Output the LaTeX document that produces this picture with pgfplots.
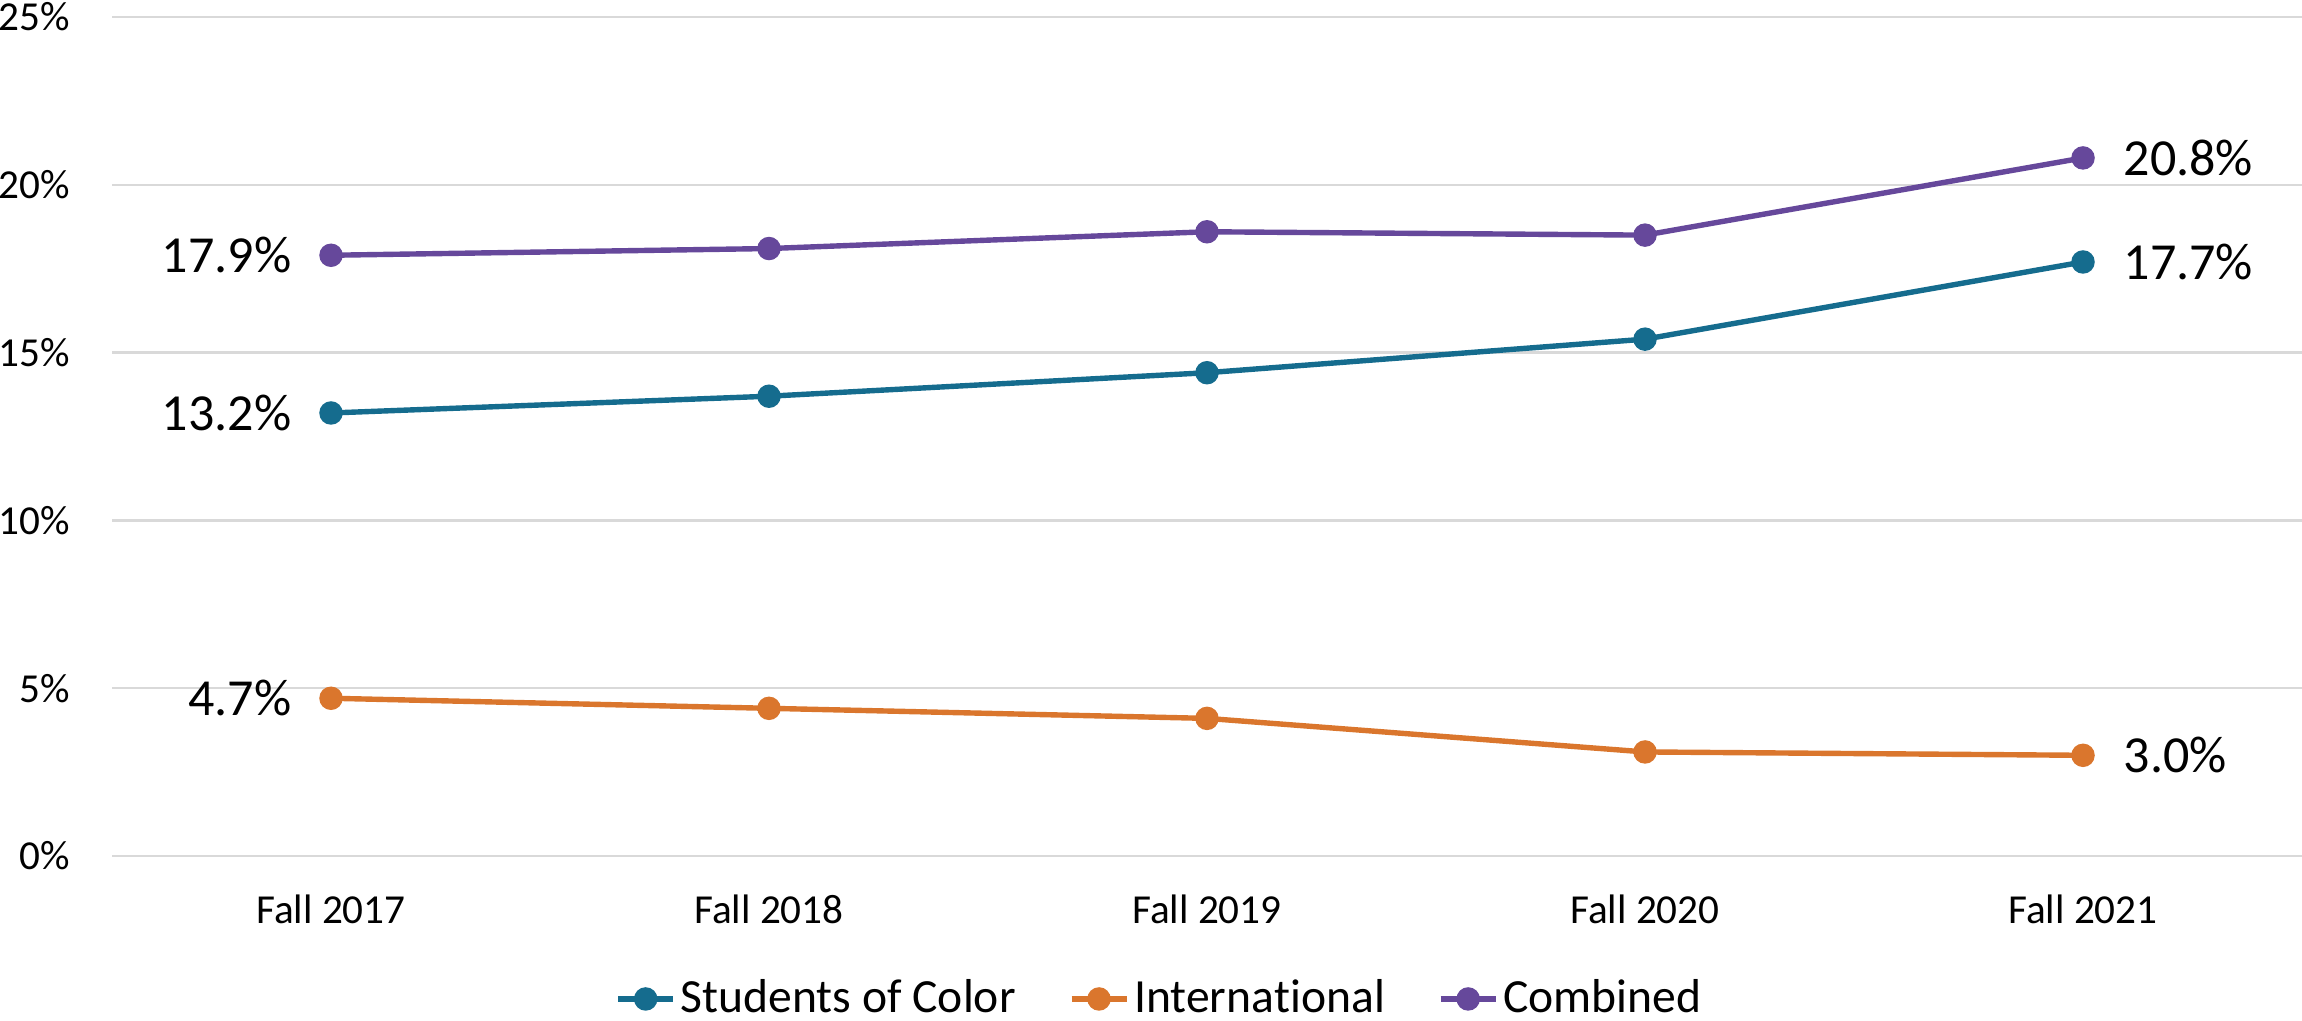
\documentclass[border=0pt]{standalone}
\usepackage{pgfplots}
\pgfplotsset{compat=1.18}
\usepackage{fontspec}
\setmainfont{Carlito}[Ligatures=NoCommon]
\definecolor{cteal}{RGB}{21,108,142}
\definecolor{corange}{RGB}{218,118,45}
\definecolor{cpurple}{RGB}{102,72,155}
\definecolor{cgrid}{RGB}{217,217,217}
\begin{document}
\begin{tikzpicture}
\begin{axis}[
  name=ax,
  scale only axis, width=547.5pt, height=209.75pt,
  xmin=-0.5, xmax=4.5, ymin=0, ymax=25,
  xtick={0,1,2,3,4},
  xticklabels={Fall 2017,Fall 2018,Fall 2019,Fall 2020,Fall 2021},
  ytick={0,5,10,15,20,25},
  yticklabels={0\%,5\%,10\%,15\%,20\%,25\%},
  axis line style={draw=none},
  major tick length=0pt,
  ymajorgrids,
  grid style={cgrid, line width=0.6pt},
  tick label style={font=\fontsize{10.3}{12}\selectfont},
  yticklabel style={anchor=east, inner sep=0pt, xshift=-10.25pt},
  xticklabel style={anchor=base, inner sep=0pt, yshift=-17pt},
  clip=false,
  legend columns=-1,
  legend style={at={(0.479,-0.1704)}, anchor=center, draw=none, fill=none,
    font=\fontsize{11.9}{13}\selectfont, inner sep=0pt,
    nodes={inner sep=1.25pt},
    /tikz/every even column/.append style={column sep=12pt}},
  legend image code/.code={\draw[#1, mark repeat=2, mark phase=2] plot coordinates {(0pt,0pt) (6.875pt,0pt) (13.75pt,0pt)};},
  every axis plot/.append style={line width=1.35pt, mark=*, mark size=2.25pt},
]
\addplot[cteal, mark options={fill=cteal}] coordinates {(0,13.2) (1,13.7) (2,14.4) (3,15.4) (4,17.7)};
\addlegendentry{Students of Color}
\addplot[corange, mark options={fill=corange}] coordinates {(0,4.7) (1,4.4) (2,4.1) (3,3.1) (4,3.0)};
\addlegendentry{Interna\kern0pt tional}
\addplot[cpurple, mark options={fill=cpurple}] coordinates {(0,17.9) (1,18.1) (2,18.6) (3,18.5) (4,20.8)};
\addlegendentry{Combined}
% data labels
\addplot[forget plot, draw=none, mark=none, nodes near coords, point meta=explicit symbolic,
  every node near coord/.append style={anchor=east, inner sep=0pt, xshift=-9.25pt, yshift=0pt, font=\fontsize{13}{15}\selectfont, text=black}]
  coordinates {(0,17.9) [17.9\%] (0,13.2) [13.2\%] (0,4.7) [4.7\%]};
\addplot[forget plot, draw=none, mark=none, nodes near coords, point meta=explicit symbolic,
  every node near coord/.append style={anchor=west, inner sep=0pt, xshift=9.5pt, yshift=0pt, font=\fontsize{13}{15}\selectfont, text=black}]
  coordinates {(4,20.8) [20.8\%] (4,17.7) [17.7\%] (4,3.0) [3.0\%]};
\end{axis}
\pgfresetboundingbox
\path[use as bounding box] ([shift={(-28pt,-41.25pt)}]ax.south west) rectangle ([shift={(0pt,4.25pt)}]ax.north east);
\end{tikzpicture}
\end{document}
